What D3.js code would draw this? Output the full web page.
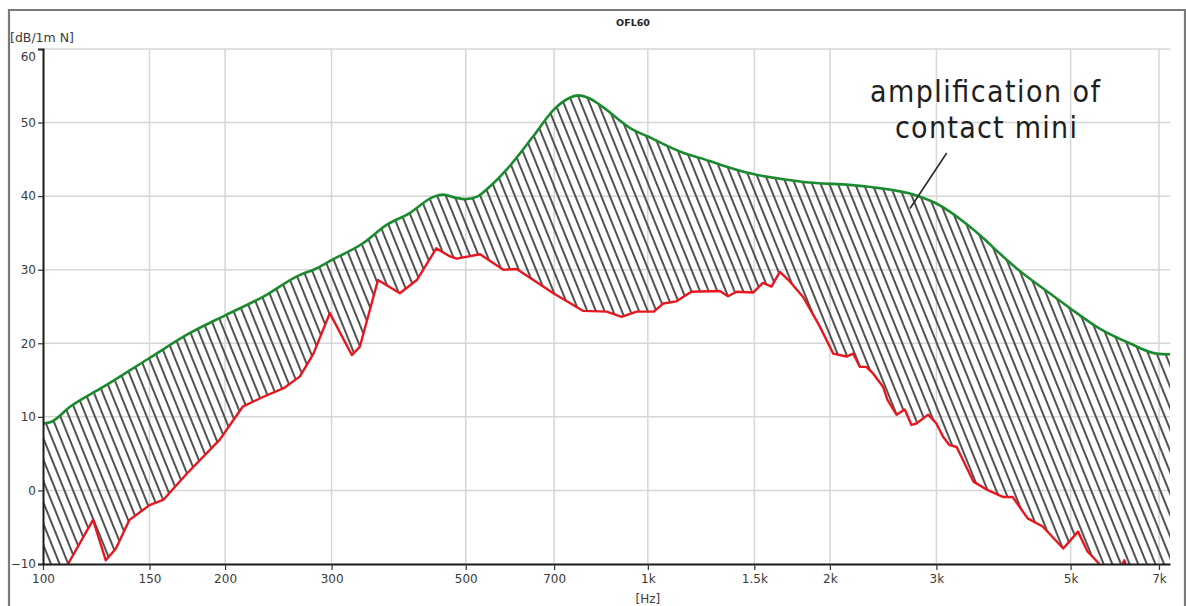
<!DOCTYPE html>
<html>
<head>
<meta charset="utf-8">
<script src="https://cdn.jsdelivr.net/npm/d3@7"></script>
<style>
  body { margin: 0; background: #ffffff; }
  svg { display: block; }
</style>
</head>
<body>
<div id="chart"></div>
<script>
// 频率响应 OFL60 - hatched gain area
const chartTitle = "OFL60";
const yLabel = "[dB/1m N]";
const xLabel = "[Hz]";
const noteLines = ["amplification of", "contact mini"];

const freqTicks = [100, 150, 200, 300, 500, 700, 1000, 1500, 2000, 3000, 5000, 7000];
const freqTickLabels = ["100", "150", "200", "300", "500", "700", "1k", "1.5k", "2k", "3k", "5k", "7k"];
const dbTicks = [-10, 0, 10, 20, 30, 40, 50, 60];

// with contact mini (green)
const ampFreq = [100, 103, 111, 126, 150, 175, 200, 231, 266, 280, 300, 338, 370, 404, 442, 459, 480, 500, 521, 548, 584, 646, 698, 740, 767, 800, 833, 946, 1000, 1144, 1219, 1315, 1475, 1783, 2298, 2780, 3000, 3156, 3364, 3584, 3818, 4068, 4617, 4984, 5585, 6260, 6931, 7300];
const ampDb   = [9.1, 9.3, 11.4, 14.1, 18.0, 21.4, 23.8, 26.3, 29.3, 30.0, 31.3, 33.6, 36.1, 37.7, 39.9, 40.2, 39.8, 39.6, 39.9, 41.3, 43.6, 48.1, 51.7, 53.3, 53.7, 53.3, 52.4, 49.0, 48.1, 45.9, 45.2, 44.3, 43.1, 42.0, 41.3, 40.1, 39.0, 37.9, 36.2, 34.3, 32.2, 30.2, 26.8, 24.8, 22.0, 20.0, 18.6, 18.5];

// without (red)
const rawFreq = [104, 110, 121, 127, 132, 139, 150, 158, 173, 196, 214, 231, 250, 266, 280, 298, 324, 334, 358, 389, 415, 447, 471, 483, 528, 577, 607, 698, 782, 855, 905, 958, 1023, 1060, 1115, 1180, 1315, 1357, 1402, 1493, 1550, 1601, 1653, 1717, 1806, 1924, 2025, 2130, 2185, 2241, 2298, 2357, 2448, 2490, 2577, 2660, 2728, 2780, 2907, 3000, 3077, 3149, 3240, 3454, 3656, 3870, 4010, 4246, 4496, 4862, 5143, 5333, 5564, 5700, 5900, 6050, 6134, 6200, 6400, 7300];
const rawDb   = [-14, -10, -4.0, -9.5, -7.9, -4.0, -2.0, -1.3, 2.3, 6.9, 11.4, 12.7, 13.9, 15.5, 18.6, 24.1, 18.4, 19.5, 28.6, 26.8, 28.6, 32.9, 31.8, 31.5, 32.1, 30.0, 30.1, 26.8, 24.4, 24.3, 23.6, 24.3, 24.3, 25.4, 25.7, 27.0, 27.1, 26.4, 27.0, 26.9, 28.2, 27.7, 29.7, 28.4, 26.3, 22.3, 18.6, 18.2, 18.6, 16.8, 16.8, 15.9, 14.1, 12.3, 10.3, 11.0, 8.9, 9.1, 10.3, 9.1, 7.3, 6.2, 5.9, 1.2, 0.0, -0.9, -0.9, -3.8, -4.9, -7.9, -5.6, -8.3, -9.9, -11.5, -12.0, -10.6, -9.5, -10.6, -13.0, -15.0];

class ResponseChart {
  constructor(containerId) {
    this.width = 1186;
    this.height = 606;
    this.plot = { left: 43, right: 1170, top: 49, bottom: 564 };

    this.svg = d3.select(containerId).append("svg")
      .attr("width", this.width)
      .attr("height", this.height)
      .style("font-family", "'DejaVu Sans', Verdana, sans-serif");

    this.x = d3.scaleLog()
      .domain([100, 7300])
      .range([this.plot.left, this.plot.right]);
    this.y = d3.scaleLinear()
      .domain([-10, 60])
      .range([this.plot.bottom, this.plot.top]);

    this.init();
  }

  init() {
    const defs = this.svg.append("defs");

    // 斜线填充
    const pattern = defs.append("pattern")
      .attr("id", "hatch")
      .attr("patternUnits", "userSpaceOnUse")
      .attr("width", 8)
      .attr("height", 10)
      .attr("patternTransform", "rotate(-22)");
    pattern.append("line")
      .attr("x1", 4).attr("y1", -1)
      .attr("x2", 4).attr("y2", 11)
      .attr("stroke", "#4a4a4a")
      .attr("stroke-width", 1.9);

    defs.append("clipPath")
      .attr("id", "plot-clip")
      .append("rect")
      .attr("x", this.plot.left)
      .attr("y", this.plot.top)
      .attr("width", this.plot.right - this.plot.left)
      .attr("height", this.plot.bottom - this.plot.top + 1);
  }

  render() {
    this.drawFrame();
    this.drawGrid();
    this.drawCurves();
    this.drawAxes();
    this.drawNote();
  }

  drawFrame() {
    this.svg.append("path")
      .attr("d", `M9,${this.height} V10 H1185 V${this.height}`)
      .attr("fill", "none")
      .attr("stroke", "#7a7a7a")
      .attr("stroke-width", 2.2);

    this.svg.append("text")
      .attr("x", 633)
      .attr("y", 26)
      .attr("text-anchor", "middle")
      .attr("font-size", "9.5px")
      .attr("font-weight", "bold")
      .attr("fill", "#222")
      .text(chartTitle);
  }

  drawGrid() {
    const g = this.svg.append("g").attr("class", "grid");

    g.selectAll(".vgrid")
      .data(freqTicks.slice(1))
      .join("line")
      .attr("class", "vgrid")
      .attr("x1", d => this.x(d)).attr("x2", d => this.x(d))
      .attr("y1", this.plot.top).attr("y2", this.plot.bottom);

    g.selectAll(".hgrid")
      .data(dbTicks.slice(1))
      .join("line")
      .attr("class", "hgrid")
      .attr("x1", this.plot.left).attr("x2", this.plot.right)
      .attr("y1", d => this.y(d)).attr("y2", d => this.y(d));

    g.selectAll("line")
      .attr("stroke", "#d6d6d6")
      .attr("stroke-width", 1.5);
  }

  drawCurves() {
    const g = this.svg.append("g").attr("clip-path", "url(#plot-clip)");
    const line = d3.line()
      .x(d => this.x(d[0]))
      .y(d => this.y(d[1]));

    const amp = ampFreq.map((f, i) => [f, ampDb[i]]);
    const raw = rawFreq.map((f, i) => [f, rawDb[i]]);

    // 增益区域: 绿线到红线 (低于 -10 时贴底)
    const floor = raw.map(d => [d[0], Math.max(-10, d[1])]).reverse();
    const region = amp.concat([[7300, -10]], floor, [[100, -10]]);

    g.append("path")
      .datum(region)
      .attr("d", line)
      .attr("fill", "url(#hatch)")
      .attr("stroke", "none");

    g.append("path")
      .datum(amp)
      .attr("d", line.curve(d3.curveMonotoneX))
      .attr("fill", "none")
      .attr("stroke", "#1b8a2e")
      .attr("stroke-width", 2.6)
      .attr("stroke-linejoin", "round");

    g.append("path")
      .datum(raw)
      .attr("d", line.curve(d3.curveLinear))
      .attr("fill", "none")
      .attr("stroke", "#e8161e")
      .attr("stroke-width", 2.4)
      .attr("stroke-linejoin", "round");
  }

  drawAxes() {
    const xAxis = d3.axisBottom(this.x)
      .tickValues(freqTicks)
      .tickFormat((d, i) => freqTickLabels[i])
      .tickSize(6)
      .tickSizeOuter(0)
      .tickPadding(4);

    const yAxis = d3.axisLeft(this.y)
      .tickValues(dbTicks)
      .tickSize(5)
      .tickSizeOuter(5)
      .tickPadding(2);

    const gx = this.svg.append("g")
      .attr("transform", `translate(0,${this.plot.bottom})`)
      .call(xAxis);
    const gy = this.svg.append("g")
      .attr("transform", `translate(${this.plot.left},0)`)
      .call(yAxis);

    [gx, gy].forEach(g => {
      g.select(".domain").attr("stroke", "#1a1a1a").attr("stroke-width", 2);
      g.selectAll(".tick line").attr("stroke", "#333").attr("stroke-width", 1.2);
      g.selectAll(".tick text")
        .attr("fill", "#3a3a3a")
        .attr("font-size", "12px")
        .attr("font-family", "'DejaVu Sans', Verdana, sans-serif");
    });

    // 顶部刻度文字下移, 留在绘图区内
    gy.selectAll(".tick text")
      .filter(d => d === 60)
      .attr("dy", "0.95em");

    this.svg.append("text")
      .attr("x", 10)
      .attr("y", 42)
      .attr("font-size", "12.5px")
      .attr("fill", "#3a3a3a")
      .text(yLabel);

    this.svg.append("text")
      .attr("x", this.x(1000))
      .attr("y", 603)
      .attr("text-anchor", "middle")
      .attr("font-size", "12px")
      .attr("fill", "#3a3a3a")
      .text(xLabel);
  }

  drawNote() {
    const g = this.svg.append("g").attr("class", "note");
    const spans = [[870, 102, 230], [895, 138, 182]];

    g.selectAll("text")
      .data(noteLines)
      .join("text")
      .attr("x", (d, i) => spans[i][0])
      .attr("y", (d, i) => spans[i][1])
      .attr("textLength", (d, i) => spans[i][2])
      .attr("lengthAdjust", "spacing")
      .attr("font-family", "'Liberation Sans Narrow', 'DejaVu Sans Condensed', sans-serif")
      .attr("font-size", "30px")
      .attr("fill", "#1e1e1e")
      .text(d => d);

    g.append("line")
      .attr("x1", 946.7).attr("y1", 153)
      .attr("x2", 910).attr("y2", 208.5)
      .attr("stroke", "#2a2a2a")
      .attr("stroke-width", 1.6);
  }
}

const chart = new ResponseChart("#chart");
chart.render();
</script>
</body>
</html>
